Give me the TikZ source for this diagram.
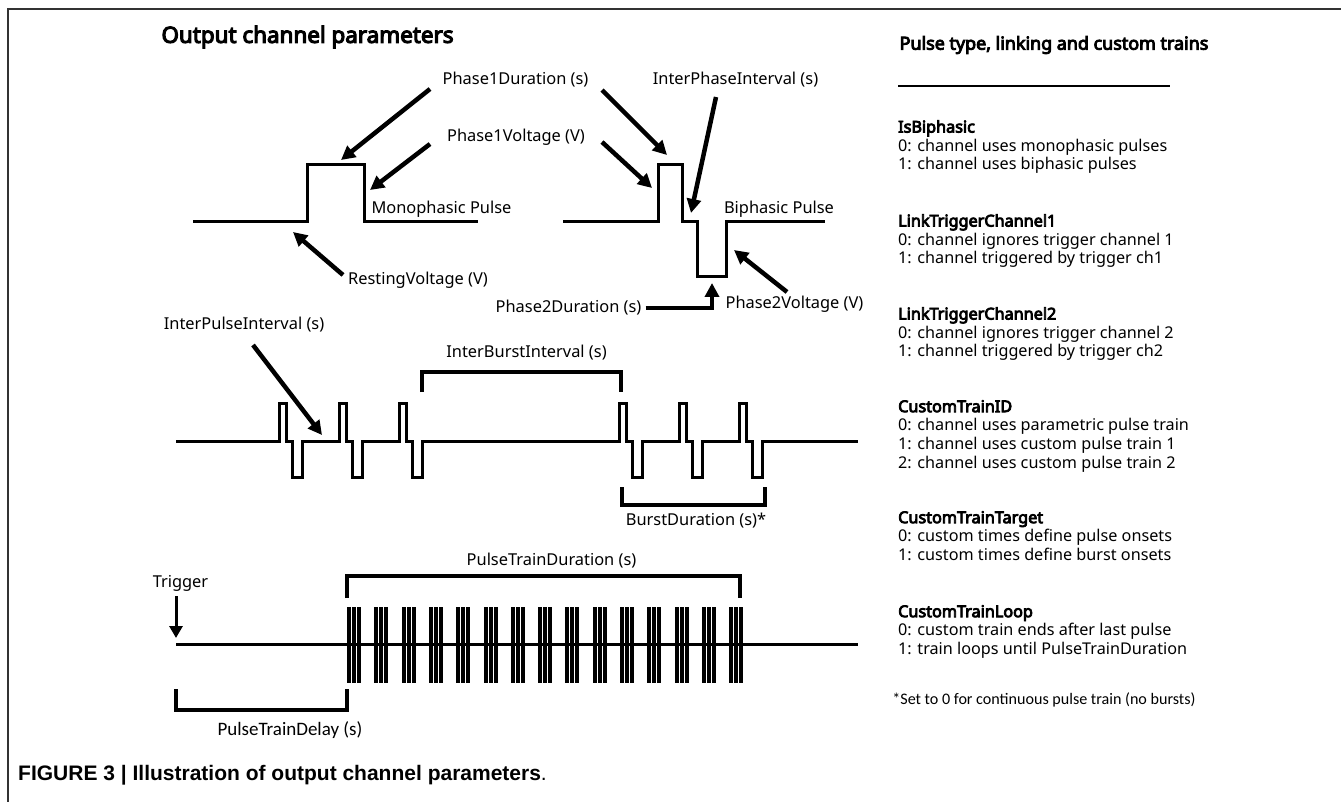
\documentclass[tikz,border=0pt]{standalone}
\usepackage{fontspec}
\setmainfont{Noto Sans}[BoldFont={Noto Sans},BoldFeatures={FakeBold=5}]
\newfontfamily\capfont{Liberation Sans}
\newfontfamily\notefont{Carlito}
\usetikzlibrary{arrows.meta}

\tikzset{
  wave/.style={line width=3pt, line join=miter},
  bracket/.style={line width=4.5pt, line join=miter},
  arr/.style={line width=4.5pt, -{Triangle[length=14pt,width=14pt]}},
  lbl/.style={inner sep=0pt, font=\fontsize{16.4}{20}\selectfont},
  sect/.style={inner sep=0pt, anchor=north west, align=left,
    font=\fontsize{16.2}{18.7}\selectfont},
}

\begin{document}
\begin{tikzpicture}[x=1pt,y=-1pt]
\useasboundingbox (0,0) rectangle (1341,802);

% frame
\draw [line width=1.5pt,black!80] (8,802) -- (8,9) -- (1341,9);

% titles
\node [inner sep=0pt,font=\fontsize{22.4}{26}\selectfont\bfseries] (ltitle) at (307.5,37) {Output channel parameters};
\node [inner sep=0pt,font=\fontsize{17.9}{21}\selectfont\bfseries] (rtitle) at (1054,45) {Pulse type, linking and custom trains};
\draw [line width=1.5pt] (898,86) -- (1170,86);

% monophasic pulse
\draw [wave] (193,222) -- (307,222) -- (307,165) -- (364,165) -- (364,222) -- (478,222);
\node [lbl] (monolab) at (441.5,209) {Monophasic Pulse};

% biphasic pulse
\draw [wave] (563,222) -- (658,222) -- (658,165) -- (682,165) -- (682,222) -- (697,222)
  -- (697,277) -- (726,277) -- (726,222) -- (825,222);
\node [lbl] (bilab) at (779,209) {Biphasic Pulse};

% labels for the pulses
\node [lbl] (p1dur) at (515.5,80) {Phase1Duration (s)};
\node [lbl] (p1volt) at (516,137) {Phase1Voltage (V)};
\node [lbl] (rest) at (418,280) {RestingVoltage (V)};
\node [lbl] (iphase) at (735.5,80) {InterPhaseInterval (s)};
\node [lbl] (p2dur) at (568.5,308) {Phase2Duration (s)};
\node [lbl] (p2volt) at (794.5,304) {Phase2Voltage (V)};

\coordinate (mtop) at (341,160);
\coordinate (mside) at (370,190);
\coordinate (mrest) at (293,232);
\coordinate (btop) at (667,155);
\coordinate (bside) at (652,188);
\coordinate (bgap) at (691,213);
\coordinate (bbot) at (712,283);
\coordinate (bneg) at (734,250);

\coordinate (t1) at (430,89);
\coordinate (t2) at (430,144);
\coordinate (t3) at (343,275);
\coordinate (t4) at (602,90);
\coordinate (t5) at (602,142);
\coordinate (t6) at (716,97);
\coordinate (t7) at (787,292);

\draw [arr] (t1) -- (mtop);
\draw [arr] (t2) -- (mside);
\draw [arr] (t3) -- (mrest);
\draw [arr] (t4) -- (btop);
\draw [arr] (t5) -- (bside);
\draw [arr] (t6) -- (bgap);
\draw [arr] (t7) -- (bneg);
\draw [arr,line join=miter] ([xshift=4pt]p2dur.east) -| (bbot);

% bursts of biphasic pulses
\draw [wave] (176,441) \foreach \x in {279,339,399,619,679,739} {
    -- (\x,441) -- (\x,403) -- (\x+7,403) -- (\x+7,441) -- (\x+13,441)
    -- (\x+13,477) -- (\x+23,477) -- (\x+23,441) } -- (858,441);

\node [lbl] (ipulse) at (244,325) {InterPulseInterval (s)};
\coordinate (t8) at (253,345);
\coordinate (gap1) at (322,435);
\draw [arr] (t8) -- (gap1);

\draw [bracket] (422,392) -- (422,372) -- (621,372) -- (621,392);
\node [lbl] (iburst) at (526.5,353) {InterBurstInterval (s)};

\draw [bracket] (622,487) -- (622,505) -- (765,505) -- (765,487);
\node [lbl] (bdur) at (696,521) {BurstDuration (s)*};

% pulse train
\node [lbl] (trig) at (180.5,583) {Trigger};
\coordinate (trigtail) at (176,596);
\coordinate (trighead) at (176,638);
\draw [line width=3pt,-{Triangle[length=12pt,width=13pt]}] (trigtail) -- (trighead);

\draw [wave] (176,644) -- (858,644);
\foreach \k in {0,...,14} {
  \pgfmathsetmacro\c{round(354+27.3*\k)}
  \foreach \d in {-5,0,5}
    \draw [line width=3.6pt] (\c+\d,607) -- (\c+\d,683);
}

\draw [bracket] (347,598) -- (347,576) -- (740,576) -- (740,598);
\node [lbl] (ptdur) at (551.5,561) {PulseTrainDuration (s)};

\draw [bracket] (176,689) -- (176,710) -- (347,710) -- (347,689);
\node [inner sep=0pt,font=\notefont\fontsize{19}{22}\selectfont] (ptdel) at (290,730) {PulseTrainDelay (s)};

% parameter list
\node [sect] (isbi) at (898,120) {\textbf{IsBiphasic}\\0: channel uses monophasic pulses\\1: channel uses biphasic pulses};
\node [sect] (link1) at (898,214) {\textbf{LinkTriggerChannel1}\\0: channel ignores trigger channel 1\\1: channel triggered by trigger ch1};
\node [sect] (link2) at (898,307) {\textbf{LinkTriggerChannel2}\\0: channel ignores trigger channel 2\\1: channel triggered by trigger ch2};
\node [sect] (ctid) at (898,400) {\textbf{CustomTrainID}\\0: channel uses parametric pulse train\\1: channel uses custom pulse train 1\\2: channel uses custom pulse train 2};
\node [sect] (cttarget) at (898,511) {\textbf{CustomTrainTarget}\\0: custom times define pulse onsets\\1: custom times define burst onsets};
\node [sect] (ctloop) at (898,605) {\textbf{CustomTrainLoop}\\0: custom train ends after last pulse\\1: train loops until PulseTrainDuration};

\node [inner sep=0pt,font=\notefont\fontsize{16.1}{19}\selectfont] (note) at (1044,700) {*Set to 0 for continuous pulse train (no bursts)};

% caption
\node [inner sep=0pt,anchor=west,font=\capfont\fontsize{21}{24}\selectfont] (cap) at (18,775) {\textbf{FIGURE 3 | Illustration of output channel parameters}.};
\end{tikzpicture}
\end{document}
